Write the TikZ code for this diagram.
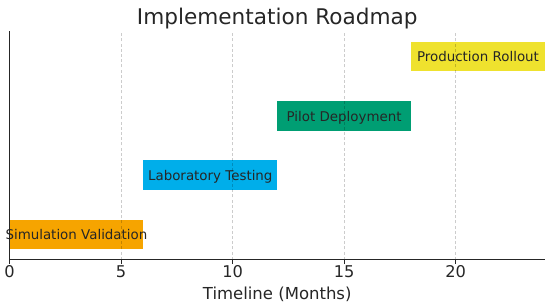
\documentclass[tikz,border=0pt]{standalone}
\usepackage{fontspec}
\setmainfont{DejaVu Sans}
\definecolor{cOrange}{HTML}{F6A400}
\definecolor{cBlue}{HTML}{00AEEA}
\definecolor{cGreen}{HTML}{009E73}
\definecolor{cYellow}{HTML}{EFE22E}
\definecolor{txt}{HTML}{262626}
\tikzset{
  bar/.style={draw=none, minimum width=6*22.31pt, minimum height=29.65pt, inner sep=0pt,
    text height=10.2pt, text depth=0pt, text=txt, font=\fontsize{13.4}{16}\selectfont},
  gridline/.style={black, opacity=0.2, line width=0.8pt, dash pattern=on 3pt off 2.2pt},
  spine/.style={black!85, line width=1.2pt},
  tickmark/.style={black!85, line width=1pt},
  ticklabel/.style={anchor=base, inner sep=0pt, text=txt, font=\fontsize{16.2}{19}\selectfont},
}
\begin{document}
\begin{tikzpicture}[x=22.31pt, y=59.3pt]
\useasboundingbox (-9.5pt,-71.5pt) rectangle (540.5pt,234.5pt);
% bars
\node[bar, fill=cOrange] (sim)   at (3,0) {\makebox[0pt]{Simulation Validation}};
\node[bar, fill=cBlue]   (lab)   at (9,1) {\makebox[0pt]{Laboratory Testing}};
\node[bar, fill=cGreen]  (pilot) at (15,2) {\makebox[0pt]{Pilot Deployment}};
\node[bar, fill=cYellow] (prod)  at (21,3) {\makebox[0pt]{Production Rollout}};
% grid
\foreach \k in {5,10,15,20} {
  \draw[gridline] (\k,-0.425) -- (\k,3.425);
}
% spines
\coordinate (origin) at (0,-0.425);
\coordinate (ytop) at (0,3.425);
\coordinate (xend) at (24,-0.425);
\draw[spine] (ytop) -- (origin) -- (xend);
% ticks
\foreach \k in {0,5,10,15,20} {
  \draw[tickmark] (\k,-0.425) -- ++(0,-4.2pt);
  \node[ticklabel] (t\k) at (\k,-42.8pt) {\k};
}
% labels
\node[anchor=base, inner sep=0pt, text=txt, font=\fontsize{16.5}{20}\selectfont] (xlabel) at (12,-64.5pt) {Timeline (Months)};
\node[anchor=base, inner sep=0pt, text=txt, font=\fontsize{21.6}{26}\selectfont] (title) at (12,210pt) {Implementation Roadmap};
\end{tikzpicture}
\end{document}
